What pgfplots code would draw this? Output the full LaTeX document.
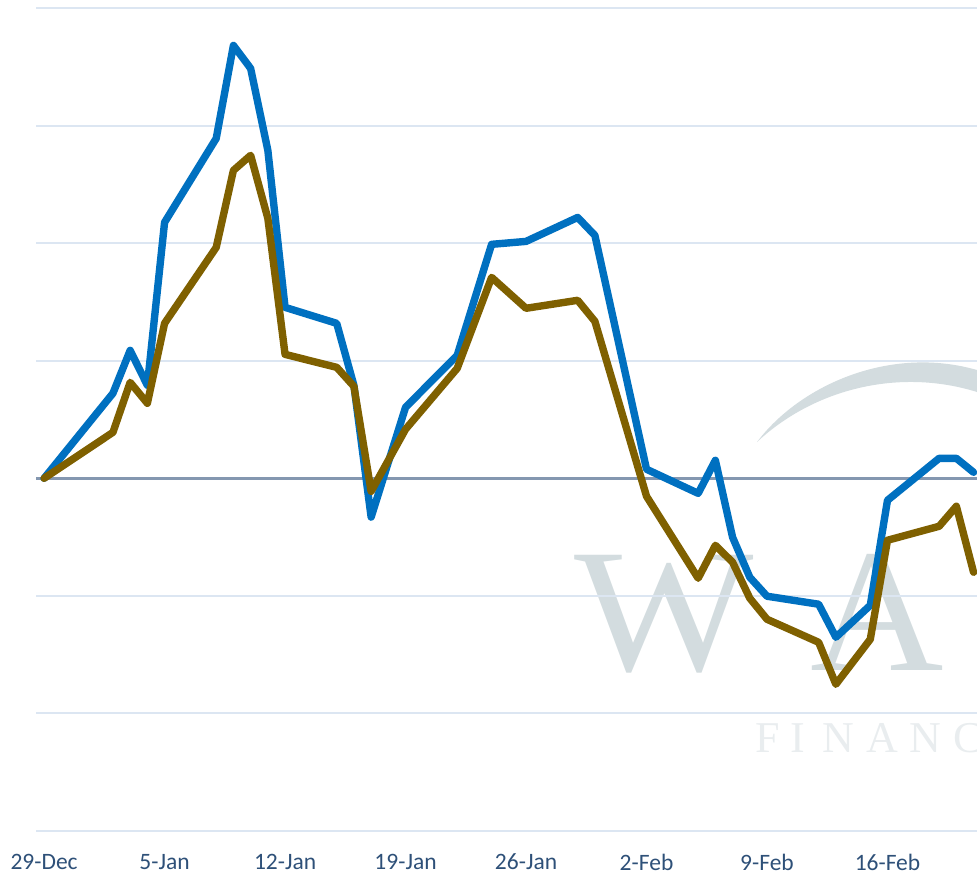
\documentclass[border=0pt]{standalone}
\usepackage{pgfplots}
\pgfplotsset{compat=1.18}
\usepackage{fontspec}
\setmainfont{Carlito}
\newfontfamily\wmfont{Liberation Serif}
\definecolor{blueline}{HTML}{0070C0}
\definecolor{oliveline}{HTML}{7F6000}
\definecolor{gridc}{HTML}{DCE6F2}
\definecolor{zeroc}{HTML}{8497B0}
\definecolor{labc}{HTML}{2E5078}
\definecolor{wmc}{HTML}{D3DCDF}
\definecolor{wmc2}{HTML}{E9EDEF}
\begin{document}
\begin{tikzpicture}
\useasboundingbox (0,0) rectangle (488.5pt,-439pt);
\begin{scope}[x=0.5pt,y=-0.5pt]
 \fill[wmc] (757,442) .. controls (800,385) and (890,345) .. (977,370) -- (977,392) .. controls (900,368) and (815,388) .. (757,442) -- cycle;
 \node[anchor=base west, inner sep=0, text=wmc, xscale=1.08, font=\wmfont\fontsize{88}{88}\selectfont] at (574,670) {W};
 \node[anchor=base west, inner sep=0, text=wmc, xscale=1.05, font=\wmfont\fontsize{88}{88}\selectfont] at (810,670) {A};
 \foreach \x/\l in {768/F,798/I,838/N,882/A,925/N,968/C}
   \node[anchor=base, inner sep=0, text=wmc2, font=\wmfont\fontsize{22}{22}\selectfont] at (\x,752) {\l};
\end{scope}
\begin{axis}[
  at={(18pt,-415.5pt)}, anchor=south west,
  scale only axis, width=470.5pt, height=411.5pt,
  xmin=-0.47, xmax=54.2, ymin=-3, ymax=4,
  axis line style={draw=none},
  major tick length=0pt,
  xtick={0,7,14,21,28,35,42,49},
  xticklabels={29-Dec,5-Jan,12-Jan,19-Jan,26-Jan,2-Feb,9-Feb,16-Feb},
  xticklabel style={text=labc, font=\fontsize{11.75}{14}\selectfont, yshift=-8pt},
  ytick={-3,-2,-1,1,2,3,4}, yticklabels={},
  ymajorgrids, grid style={gridc, line width=1pt},
  extra y ticks={0}, extra y tick labels={},
  extra y tick style={grid style={zeroc, line width=1.7pt}},
  /pgf/number format/assume math mode=true,
]
\addplot[blueline, line width=3.7pt, line join=round, line cap=round] coordinates {
(0,0) (4,0.723) (5,1.088) (6,0.791) (7,2.177) (10,2.891) (11,3.682) (12,3.486)
(13,2.789) (14,1.454) (17,1.318) (18,0.79) (19,-0.33) (21,0.604) (24,1.046)
(26,1.990) (28,2.015) (31,2.219) (32,2.066) (35,0.077) (38,-0.128) (39,0.153)
(40,-0.502) (41,-0.842) (42,-1.003) (45,-1.071) (46,-1.352) (48,-1.080)
(49,-0.187) (52,0.170) (53,0.170) (54,0.051)};
\addplot[oliveline, line width=3.7pt, line join=round, line cap=round] coordinates {
(0,0) (4,0.391) (5,0.816) (6,0.638) (7,1.318) (10,1.964) (11,2.619) (12,2.747)
(13,2.211) (14,1.054) (17,0.944) (18,0.782) (19,-0.111) (21,0.417) (24,0.935)
(26,1.709) (28,1.446) (31,1.514) (32,1.335) (35,-0.153) (38,-0.850) (39,-0.570)
(40,-0.714) (41,-1.020) (42,-1.199) (45,-1.395) (46,-1.752) (48,-1.369)
(49,-0.527) (52,-0.408) (53,-0.238) (54,-0.799)};
\end{axis}
\end{tikzpicture}
\end{document}
